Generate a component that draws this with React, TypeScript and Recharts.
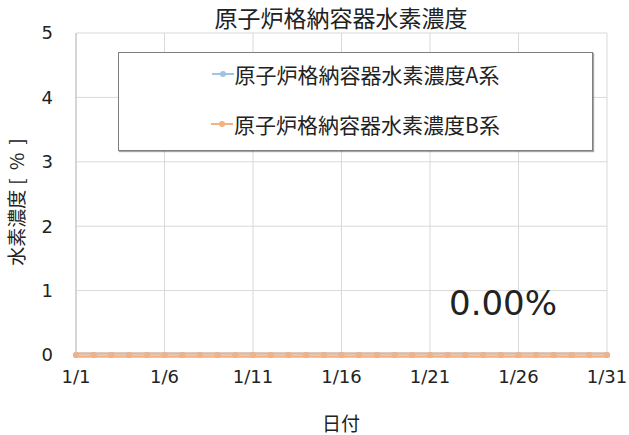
import { LineChart, Line, XAxis, YAxis, CartesianGrid, Legend } from 'recharts';

const dates = [
  '1/1', '1/2', '1/3', '1/4', '1/5', '1/6', '1/7', '1/8', '1/9', '1/10',
  '1/11', '1/12', '1/13', '1/14', '1/15', '1/16', '1/17', '1/18', '1/19', '1/20',
  '1/21', '1/22', '1/23', '1/24', '1/25', '1/26', '1/27', '1/28', '1/29', '1/30', '1/31',
];

const seriesA = [
  0, 0, 0, 0, 0, 0, 0, 0, 0, 0,
  0, 0, 0, 0, 0, 0, 0, 0, 0, 0,
  0, 0, 0, 0, 0, 0, 0, 0, 0, 0, 0,
];

const seriesB = [
  0, 0, 0, 0, 0, 0, 0, 0, 0, 0,
  0, 0, 0, 0, 0, 0, 0, 0, 0, 0,
  0, 0, 0, 0, 0, 0, 0, 0, 0, 0, 0,
];

const yTicks = [0, 1, 2, 3, 4, 5];

const nameA = '原子炉格納容器水素濃度A系';
const nameB = '原子炉格納容器水素濃度B系';

const data = dates.map((date, i) => ({ date, a: seriesA[i], b: seriesB[i] }));

const latest = `${seriesB[seriesB.length - 1].toFixed(2)}%`;

const cjk = '"Noto Sans CJK JP", "Noto Sans", sans-serif';
const latin = '"DejaVu Sans", Verdana, sans-serif';

function LegendBox({ payload }: any) {
  return (
    <div style={{ display: 'flex', flexDirection: 'column', gap: 8 }}>
      {(payload || []).map((entry: any) => (
        <div
          key={entry.value}
          style={{ height: 42, display: 'flex', alignItems: 'center', justifyContent: 'center' }}
        >
          <svg width={22} height={10} style={{ marginRight: 1 }}>
            <line x1={0} y1={5} x2={22} y2={5} stroke={entry.color} strokeWidth={2} />
            <circle cx={11} cy={5} r={3} fill={entry.color} />
          </svg>
          <span style={{ fontFamily: cjk, fontSize: 21, color: '#222' }}>{entry.value}</span>
        </div>
      ))}
    </div>
  );
}

export default function App() {
  return (
    <div style={{ position: 'absolute', left: 0, top: 0, width: 629, height: 435, background: '#fff' }}>
      <LineChart
        width={629}
        height={435}
        data={data}
        margin={{ top: 33, right: 22, left: 0, bottom: 0 }}
      >
        <CartesianGrid stroke="#d9d9d9" strokeWidth={1} />
        <XAxis
          dataKey="date"
          interval={4}
          height={80}
          tickLine={false}
          tickSize={0}
          tickMargin={15}
          axisLine={{ stroke: '#d9d9d9' }}
          tick={{ fill: '#222', fontSize: 18, fontFamily: latin }}
        />
        <YAxis
          domain={[0, 5]}
          ticks={yTicks}
          width={76}
          tickLine={false}
          tickSize={0}
          tickMargin={23}
          axisLine={{ stroke: '#bfbfbf' }}
          tick={{ fill: '#222', fontSize: 18, fontFamily: latin }}
        />
        <Legend
          layout="vertical"
          align="center"
          verticalAlign="middle"
          content={<LegendBox />}
          wrapperStyle={{
            left: 118,
            top: 52,
            width: 475,
            height: 99,
            border: '1px solid #7f7f7f',
            boxShadow: '1px 1px 1px rgba(0,0,0,0.35)',
            background: '#fff',
            boxSizing: 'border-box',
          }}
        />
        <Line
          dataKey="a"
          name={nameA}
          stroke="#9dc3e6"
          strokeWidth={5}
          strokeLinecap="round"
          dot={{ r: 3, fill: '#9dc3e6', stroke: '#9dc3e6', strokeWidth: 0 }}
          isAnimationActive={false}
        />
        <Line
          dataKey="b"
          name={nameB}
          stroke="#f4b183"
          strokeWidth={5}
          strokeLinecap="round"
          dot={{ r: 3, fill: '#f4b183', stroke: '#f4b183', strokeWidth: 0 }}
          isAnimationActive={false}
        />
      </LineChart>
      <svg
        width={629}
        height={435}
        style={{ position: 'absolute', left: 0, top: 0, pointerEvents: 'none' }}
      >
        <text x={341} y={27} textAnchor="middle" fontFamily={cjk} fontSize={23} fill="#222">
          原子炉格納容器水素濃度
        </text>
        <text
          x={24}
          y={202}
          textAnchor="middle"
          fontFamily={cjk}
          fontSize={19}
          fill="#222"
          transform="rotate(-90 24 202)"
        >
          水素濃度
          <tspan dx={5}>[</tspan>
          <tspan dx={8}>%</tspan>
          <tspan dx={8}>]</tspan>
        </text>
        <text x={341} y={431} textAnchor="middle" fontFamily={cjk} fontSize={19} fill="#222">
          日付
        </text>
        <text x={449} y={315} fontFamily={latin} fontSize={34} fill="#222">
          {latest}
        </text>
      </svg>
    </div>
  );
}
